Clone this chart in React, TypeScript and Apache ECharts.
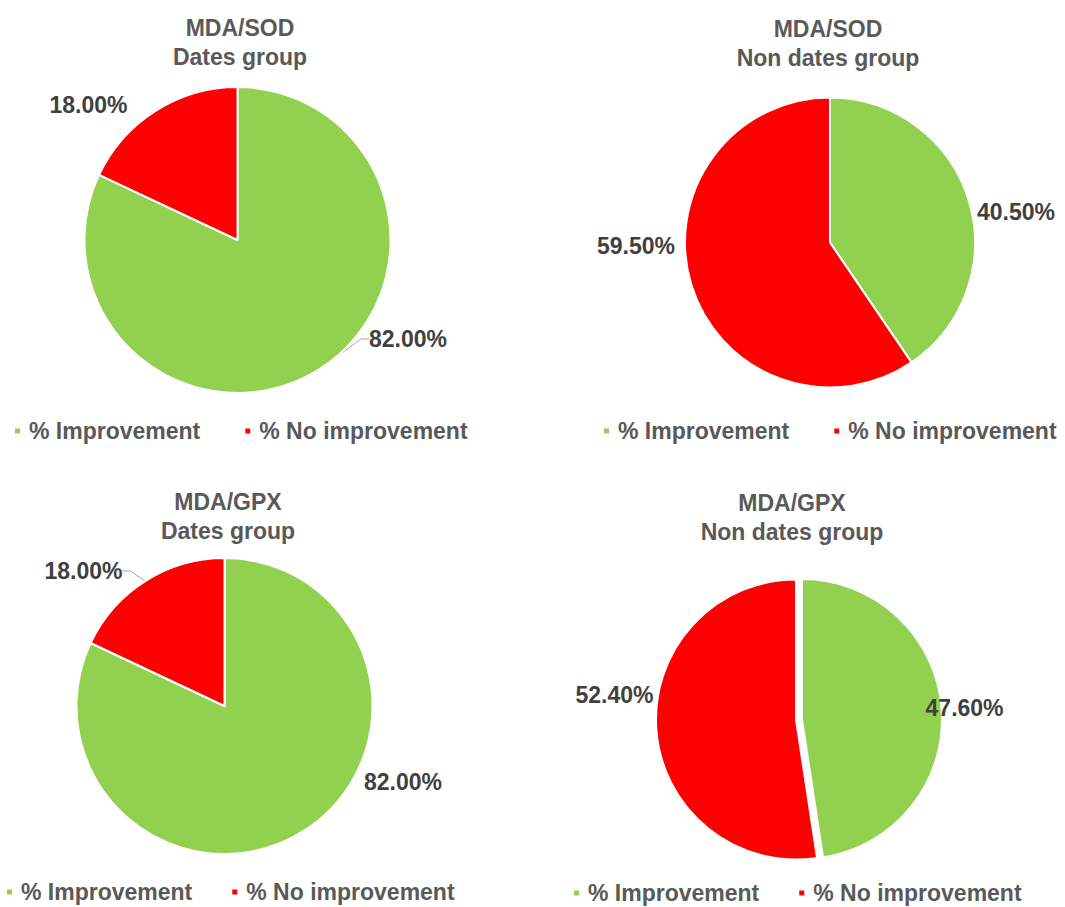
import React, { useEffect, useRef } from "react";
import * as echarts from "echarts";

// ---- data ----
const categories = ["% Improvement", "% No improvement"];
const chartTitles = [
  "MDA/SOD\nDates group",
  "MDA/SOD\nNon dates group",
  "MDA/GPX\nDates group",
  "MDA/GPX\nNon dates group",
];
const sodDates = [82.0, 18.0];
const sodNonDates = [40.5, 59.5];
const gpxDates = [82.0, 18.0];
const gpxNonDates = [47.6, 52.4];
const seriesValues = [sodDates, sodNonDates, gpxDates, gpxNonDates];
const sliceColors = ["#92D050", "#FF0000"];

// ---- layout (positions / sizes only) ----
const panels = [
  { center: [237.5, 240], r: 153, titleX: 240, titleTop: 13.5, legendLeft: 13, legendTop: 418, gap: 43,
    labels: [[408, 339], [88.5, 105]], leader: [true, false], explode: false },
  { center: [830, 242.5], r: 145, titleX: 828, titleTop: 14.5, legendLeft: 602, legendTop: 418, gap: 43,
    labels: [[1016, 212], [636, 246]], leader: [false, false], explode: false },
  { center: [224.5, 706], r: 148, titleX: 228, titleTop: 487.5, legendLeft: 5, legendTop: 879, gap: 38,
    labels: [[403, 782], [83.5, 571]], leader: [false, true], explode: false },
  { center: [796, 719.5], r: 140, titleX: 792, titleTop: 488, legendLeft: 572, legendTop: 880, gap: 38,
    labels: [[982.5, 707], [614.5, 695]], leader: [false, false], explode: true },
];

const FONT = "'Liberation Sans', Arial, sans-serif";

export default function App() {
  const ref = useRef<HTMLDivElement>(null);
  useEffect(() => {
    if (!ref.current) return;
    const chart = echarts.init(ref.current, null, { renderer: "svg" });
    const option: any = {
      animation: false,
      backgroundColor: "#ffffff",
      color: sliceColors,
      title: panels.map((p, i) => ({
        text: chartTitles[i],
        left: p.titleX,
        top: p.titleTop,
        textAlign: "center",
        padding: 0,
        textStyle: {
          fontFamily: FONT,
          fontSize: 23,
          fontWeight: "bold",
          color: "#595959",
          lineHeight: 29,
        },
      })),
      legend: panels.map((p) => ({
        data: categories,
        left: p.legendLeft,
        top: p.legendTop,
        orient: "horizontal",
        icon: "rect",
        itemWidth: 7,
        itemHeight: 7,
        itemGap: p.gap,
        padding: 0,
        selectedMode: false,
        textStyle: {
          fontFamily: FONT,
          fontSize: 23,
          fontWeight: "bold",
          color: "#595959",
          lineHeight: 26,
          padding: [0, 0, 0, 3],
        },
      })),
      series: panels.map((p, si) => ({
        type: "pie",
        center: p.center,
        radius: [0, p.r],
        startAngle: 90,
        clockwise: true,
        avoidLabelOverlap: false,
        selectedMode: p.explode ? "single" : false,
        selectedOffset: 6,
        emphasis: { disabled: true },
        itemStyle: { borderColor: "#ffffff", borderWidth: 2 },
        label: {
          show: true,
          position: "outside",
          fontFamily: FONT,
          fontSize: 23,
          fontWeight: "bold",
          color: "#404040",
          formatter: (prm: any) => Number(prm.value).toFixed(2) + "%",
        },
        labelLine: {
          show: false,
          length: 10,
          length2: 8,
          lineStyle: { color: "#A6A6A6", width: 1 },
        },
        labelLayout: (prm: any) => {
          const pos = panels[prm.seriesIndex].labels[prm.dataIndex];
          return { x: pos[0], y: pos[1], align: "center", verticalAlign: "middle" };
        },
        data: seriesValues[si].map((v, di) => ({
          name: categories[di],
          value: v,
          selected: p.explode && di === 0,
          itemStyle: { color: sliceColors[di] },
          labelLine: { show: p.leader[di] },
        })),
      })),
    };
    chart.setOption(option);
    return () => chart.dispose();
  }, []);
  return (
    <div
      ref={ref}
      style={{ position: "absolute", left: 0, top: 0, width: 1065, height: 907 }}
    />
  );
}
